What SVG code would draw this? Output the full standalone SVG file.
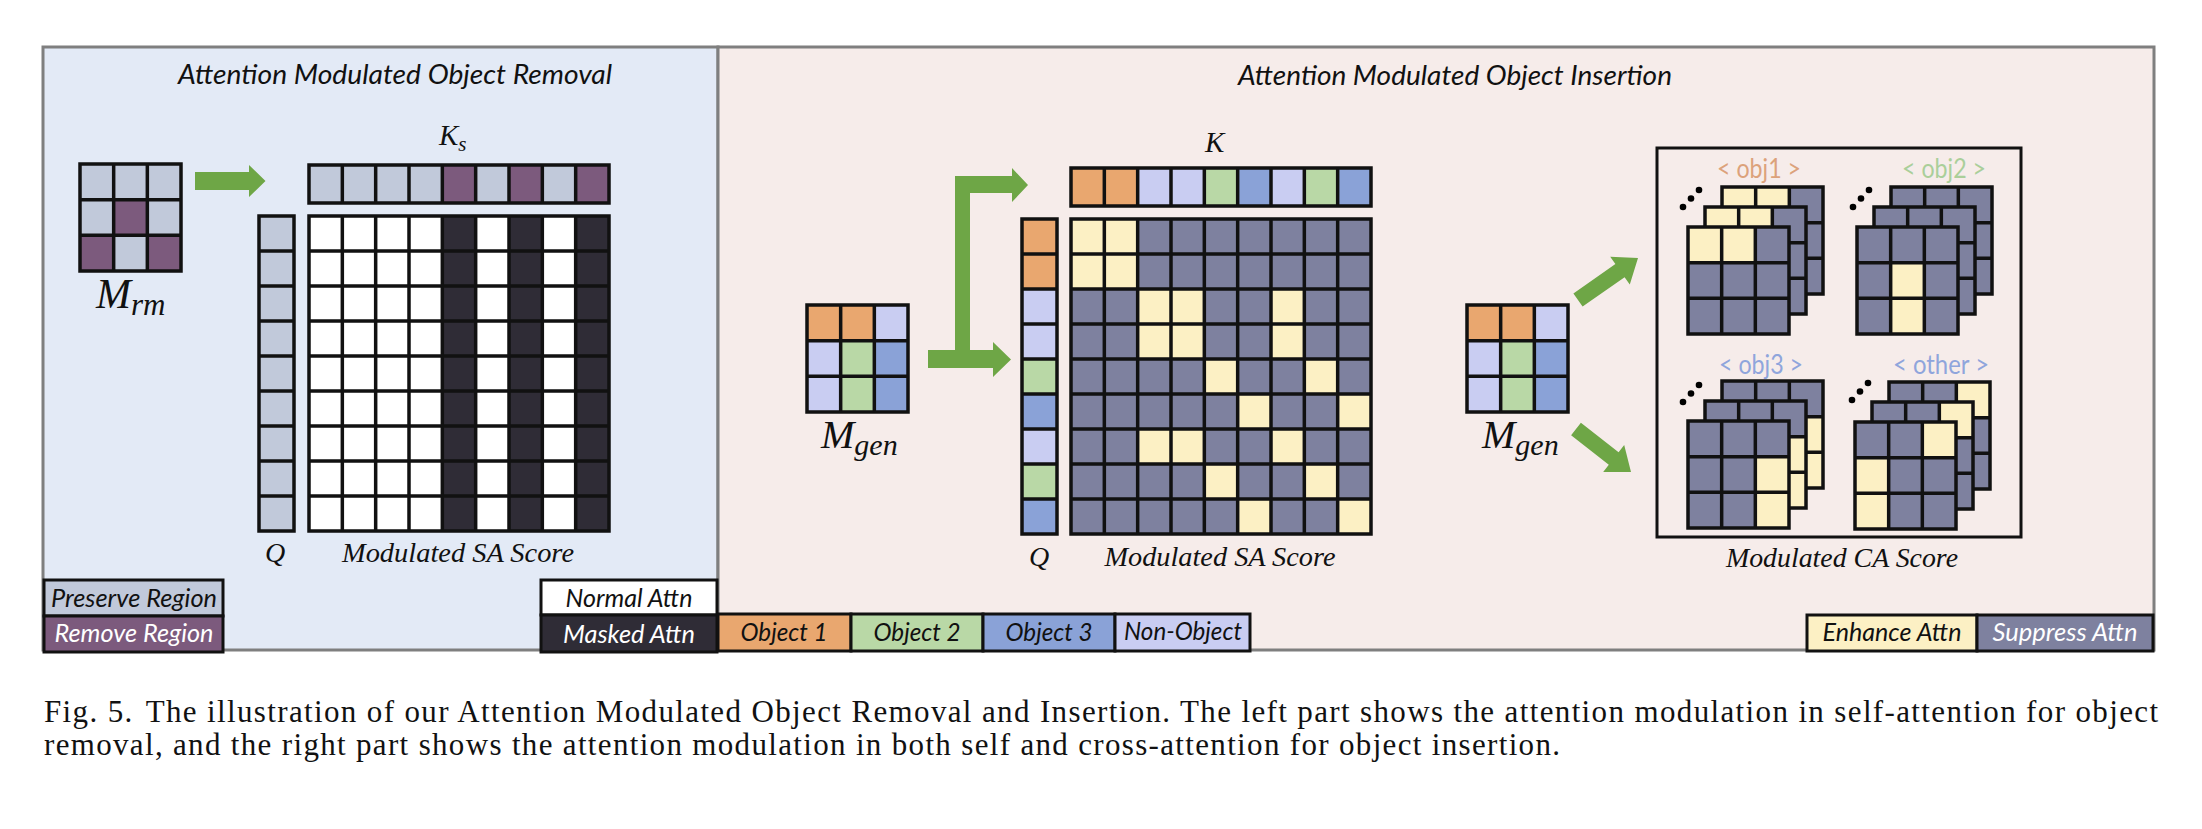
<svg xmlns="http://www.w3.org/2000/svg" width="2202" height="829" viewBox="0 0 2202 829">
<style>
.ln{fill:none;stroke:#111;stroke-width:3.5}
.P{fill:#c1c9da}.R{fill:#7c5a7d}.W{fill:#fff}.D{fill:#2f2c36}
.O{fill:#e9a76f}.G{fill:#b9d8a6}.B{fill:#8aa2d7}.N{fill:#c9cdf2}
.Y{fill:#fcf0c4}.S{fill:#7e819f}
.arrow{fill:#6ea646}
.ti{font-family:Lato,"Liberation Sans",sans-serif;font-style:italic;font-size:27px;fill:#111}
.lg{font-family:Lato,"Liberation Sans",sans-serif;font-style:italic;font-size:25px;fill:#111}
.wh{fill:#fff}
.mt{font-family:"Liberation Serif",serif;font-style:italic;fill:#111}
.tok{font-family:Lato,"Liberation Sans",sans-serif;font-size:27px}
.cap{font-family:"Liberation Serif",serif;font-size:31px;fill:#111}
.lgb{stroke:#111;stroke-width:3}
</style>
<defs>
<path id="g3" class="ln" d="M0,0H101V107H0Z M33.67,0V107 M67.33,0V107 M0,35.67H101 M0,71.33H101"/>
<path id="m9" class="ln" d="M0,0H300V315H0Z M33.33,0V315 M66.67,0V315 M100,0V315 M133.33,0V315 M166.67,0V315 M200,0V315 M233.33,0V315 M266.67,0V315 M0,35H300 M0,70H300 M0,105H300 M0,140H300 M0,175H300 M0,210H300 M0,245H300 M0,280H300"/>
<path id="r9" class="ln" d="M0,0H300V38H0Z M33.33,0V38 M66.67,0V38 M100,0V38 M133.33,0V38 M166.67,0V38 M200,0V38 M233.33,0V38 M266.67,0V38"/>
<path id="c9" class="ln" d="M0,0H35V315H0Z M0,35H35 M0,70H35 M0,105H35 M0,140H35 M0,175H35 M0,210H35 M0,245H35 M0,280H35"/>
<g id="Lobj1"><rect class="S" width="101" height="107"/><rect class="Y" x="0" y="0" width="33.67" height="35.67"/><rect class="Y" x="33.67" y="0" width="33.67" height="35.67"/><use href="#g3"/></g>
<g id="Lobj2"><rect class="S" width="101" height="107"/><rect class="Y" x="33.67" y="35.67" width="33.67" height="71.33"/><use href="#g3"/></g>
<g id="Lobj3"><rect class="S" width="101" height="107"/><rect class="Y" x="67.33" y="35.67" width="33.67" height="71.33"/><use href="#g3"/></g>
<g id="Lother"><rect class="S" width="101" height="107"/><rect class="Y" x="67.33" y="0" width="33.67" height="35.67"/><rect class="Y" x="0" y="35.67" width="33.67" height="71.33"/><use href="#g3"/></g>
<g id="dots"><circle cx="0" cy="0" r="3.3"/><circle cx="8" cy="-8.5" r="3.3"/><circle cx="16" cy="-17" r="3.3"/></g>
</defs>

<rect width="2202" height="829" fill="#fff"/>

<g id="panel-removal">
<rect x="43" y="47" width="675" height="603" fill="#e3eaf6" stroke="#7f7f7f" stroke-width="3"/>
<text class="ti" x="395" y="84" text-anchor="middle" textLength="434" lengthAdjust="spacingAndGlyphs">Attention Modulated Object Removal</text>
</g>
<g id="panel-insertion">
<rect x="718" y="47" width="1436" height="603" fill="#f6ecea" stroke="#7f7f7f" stroke-width="3"/>
<text class="ti" x="1455" y="85" text-anchor="middle" textLength="434" lengthAdjust="spacingAndGlyphs">Attention Modulated Object Insertion</text>
</g>

<g id="node-mrm">
<g transform="translate(80,164)">
<rect class="P" width="101" height="107"/>
<rect class="R" x="33.67" y="35.67" width="33.67" height="35.67"/>
<rect class="R" x="0" y="71.33" width="33.67" height="35.67"/>
<rect class="R" x="67.33" y="71.33" width="33.67" height="35.67"/>
<use href="#g3"/>
</g>
<text class="mt" x="96" y="308" font-size="42">M<tspan font-size="31" dy="7">rm</tspan></text>
</g>

<g id="node-ks">
<g transform="translate(309,165)">
<rect class="P" width="300" height="38"/>
<rect class="R" x="133.33" y="0" width="33.33" height="38"/>
<rect class="R" x="200" y="0" width="33.33" height="38"/>
<rect class="R" x="266.67" y="0" width="33.33" height="38"/>
<use href="#r9"/>
</g>
<text class="mt" x="439" y="145" font-size="29">K<tspan font-size="21" dy="6">s</tspan></text>
</g>

<g id="node-q-left">
<g transform="translate(259,216)">
<rect class="P" width="35" height="315"/>
<use href="#c9"/>
</g>
<text class="mt" x="275" y="562" font-size="28" text-anchor="middle">Q</text>
</g>

<g id="node-sa-left">
<g transform="translate(309,216)">
<rect class="W" width="300" height="315"/>
<rect class="D" x="133.33" y="0" width="33.33" height="315"/>
<rect class="D" x="200" y="0" width="33.33" height="315"/>
<rect class="D" x="266.67" y="0" width="33.33" height="315"/>
<use href="#m9"/>
</g>
<text class="mt" x="458" y="562" font-size="27" text-anchor="middle" textLength="232" lengthAdjust="spacingAndGlyphs">Modulated SA Score</text>
</g>

<g id="legend-region">
<rect class="P lgb" x="44" y="580" width="179" height="36"/>
<rect class="R lgb" x="44" y="616" width="179" height="36"/>
<text class="lg" x="134" y="607" text-anchor="middle" textLength="166" lengthAdjust="spacingAndGlyphs">Preserve Region</text>
<text class="lg wh" x="134" y="642" text-anchor="middle" textLength="159" lengthAdjust="spacingAndGlyphs">Remove Region</text>
</g>
<g id="legend-attn-left">
<rect class="W lgb" x="541" y="580" width="176" height="35"/>
<rect class="D lgb" x="541" y="615" width="176" height="37"/>
<text class="lg" x="629" y="607" text-anchor="middle" textLength="127" lengthAdjust="spacingAndGlyphs">Normal Attn</text>
<text class="lg wh" x="629" y="643" text-anchor="middle" textLength="132" lengthAdjust="spacingAndGlyphs">Masked Attn</text>
</g>

<g id="node-mgen1">
<g transform="translate(807,305)">
<rect class="N" width="101" height="107"/>
<rect class="O" x="0" y="0" width="67.33" height="35.67"/>
<rect class="G" x="33.67" y="35.67" width="33.67" height="71.33"/>
<rect class="B" x="67.33" y="35.67" width="33.67" height="71.33"/>
<use href="#g3"/>
</g>
<text class="mt" x="821" y="448" font-size="40">M<tspan font-size="30" dy="7">gen</tspan></text>
</g>

<g id="node-k">
<g transform="translate(1071,168)">
<rect class="N" width="300" height="38"/>
<rect class="O" x="0" y="0" width="66.67" height="38"/>
<rect class="G" x="133.33" y="0" width="33.33" height="38"/>
<rect class="B" x="166.67" y="0" width="33.33" height="38"/>
<rect class="G" x="233.33" y="0" width="33.33" height="38"/>
<rect class="B" x="266.67" y="0" width="33.33" height="38"/>
<use href="#r9"/>
</g>
<text class="mt" x="1205" y="152" font-size="29">K</text>
</g>

<g id="node-q-right">
<g transform="translate(1022,219)">
<rect class="N" width="35" height="315"/>
<rect class="O" x="0" y="0" width="35" height="70"/>
<rect class="G" x="0" y="140" width="35" height="35"/>
<rect class="B" x="0" y="175" width="35" height="35"/>
<rect class="G" x="0" y="245" width="35" height="35"/>
<rect class="B" x="0" y="280" width="35" height="35"/>
<use href="#c9"/>
</g>
<text class="mt" x="1039" y="566" font-size="28" text-anchor="middle">Q</text>
</g>

<g id="node-sa-right">
<g transform="translate(1071,219)">
<rect class="S" width="300" height="315"/>
<rect class="Y" x="0" y="0" width="66.67" height="70"/>
<rect class="Y" x="66.67" y="70" width="66.67" height="70"/>
<rect class="Y" x="200" y="70" width="33.33" height="70"/>
<rect class="Y" x="133.33" y="140" width="33.33" height="35"/>
<rect class="Y" x="233.33" y="140" width="33.33" height="35"/>
<rect class="Y" x="166.67" y="175" width="33.33" height="35"/>
<rect class="Y" x="266.67" y="175" width="33.33" height="35"/>
<rect class="Y" x="66.67" y="210" width="66.67" height="35"/>
<rect class="Y" x="200" y="210" width="33.33" height="35"/>
<rect class="Y" x="133.33" y="245" width="33.33" height="35"/>
<rect class="Y" x="233.33" y="245" width="33.33" height="35"/>
<rect class="Y" x="166.67" y="280" width="33.33" height="35"/>
<rect class="Y" x="266.67" y="280" width="33.33" height="35"/>
<use href="#m9"/>
</g>
<text class="mt" x="1220" y="566" font-size="27" text-anchor="middle" textLength="231" lengthAdjust="spacingAndGlyphs">Modulated SA Score</text>
</g>

<g id="node-mgen2">
<g transform="translate(1467,305)">
<rect class="N" width="101" height="107"/>
<rect class="O" x="0" y="0" width="67.33" height="35.67"/>
<rect class="G" x="33.67" y="35.67" width="33.67" height="71.33"/>
<rect class="B" x="67.33" y="35.67" width="33.67" height="71.33"/>
<use href="#g3"/>
</g>
<text class="mt" x="1482" y="448" font-size="40">M<tspan font-size="30" dy="7">gen</tspan></text>
</g>

<g id="node-ca">
<rect x="1657" y="148" width="364" height="389" fill="none" stroke="#111" stroke-width="3"/>
<g id="stack-obj1">
<text class="tok" x="1759" y="178" text-anchor="middle" fill="#dca27b" textLength="84" lengthAdjust="spacingAndGlyphs">&lt; obj1 &gt;</text>
<use href="#dots" x="1683" y="207"/>
<use href="#Lobj1" x="1722" y="187"/>
<use href="#Lobj1" x="1705" y="207"/>
<use href="#Lobj1" x="1688" y="227"/>
</g>
<g id="stack-obj2">
<text class="tok" x="1944" y="178" text-anchor="middle" fill="#aacf9a" textLength="84" lengthAdjust="spacingAndGlyphs">&lt; obj2 &gt;</text>
<use href="#dots" x="1853" y="207"/>
<use href="#Lobj2" x="1891" y="187"/>
<use href="#Lobj2" x="1874" y="207"/>
<use href="#Lobj2" x="1857" y="227"/>
</g>
<g id="stack-obj3">
<text class="tok" x="1761" y="374" text-anchor="middle" fill="#8fa5dc" textLength="84" lengthAdjust="spacingAndGlyphs">&lt; obj3 &gt;</text>
<use href="#dots" x="1683" y="402"/>
<use href="#Lobj3" x="1722" y="381"/>
<use href="#Lobj3" x="1705" y="401"/>
<use href="#Lobj3" x="1688" y="421"/>
</g>
<g id="stack-other">
<text class="tok" x="1941" y="374" text-anchor="middle" fill="#8fa5dc" textLength="96" lengthAdjust="spacingAndGlyphs">&lt; other &gt;</text>
<use href="#dots" x="1852" y="400"/>
<use href="#Lother" x="1889" y="382"/>
<use href="#Lother" x="1872" y="402"/>
<use href="#Lother" x="1855" y="422"/>
</g>
<text class="mt" x="1842" y="567" font-size="27" text-anchor="middle" textLength="232" lengthAdjust="spacingAndGlyphs">Modulated CA Score</text>
</g>

<g id="legend-objects">
<rect class="O lgb" x="718" y="614" width="133" height="37"/>
<rect class="G lgb" x="851" y="614" width="132" height="37"/>
<rect class="B lgb" x="983" y="614" width="132" height="37"/>
<rect class="N lgb" x="1115" y="614" width="135" height="37"/>
<text class="lg" x="784" y="641" text-anchor="middle" textLength="87" lengthAdjust="spacingAndGlyphs">Object 1</text>
<text class="lg" x="917" y="641" text-anchor="middle" textLength="87" lengthAdjust="spacingAndGlyphs">Object 2</text>
<text class="lg" x="1049" y="641" text-anchor="middle" textLength="87" lengthAdjust="spacingAndGlyphs">Object 3</text>
<text class="lg" x="1183" y="640" text-anchor="middle" textLength="118" lengthAdjust="spacingAndGlyphs">Non-Object</text>
</g>
<g id="legend-attn-right">
<rect class="Y lgb" x="1807" y="615" width="170" height="36"/>
<rect class="S lgb" x="1977" y="615" width="176" height="36"/>
<text class="lg" x="1892" y="641" text-anchor="middle" textLength="139" lengthAdjust="spacingAndGlyphs">Enhance Attn</text>
<text class="lg wh" x="2065" y="641" text-anchor="middle" textLength="145" lengthAdjust="spacingAndGlyphs">Suppress Attn</text>
</g>

<g id="connectors">
<polygon class="arrow" points="195,172 249,172 249,165 265.5,181 249,197 249,190 195,190"/>
<polygon class="arrow" points="955,176 1012,176 1012,168 1028,185 1012,202 1012,193 970,193 970,350 993,350 993,342 1011,359.5 993,377 993,368 928,368 928,350 955,350"/>
<polygon class="arrow" points="1582.6,306.6 1624.6,277.2 1629.8,284.5 1638,258 1610.2,256.7 1615.4,264 1573.4,293.4"/>
<polygon class="arrow" points="1571.1,435.3 1608.8,464.8 1603.2,471.9 1631,472 1624.2,445.1 1618.6,452.2 1580.9,422.7"/>
</g>

<g id="caption">
<text class="cap" x="44" y="722" textLength="2114" lengthAdjust="spacing">Fig. 5.<tspan dx="12">The illustration of our Attention Modulated Object Removal and Insertion. The left part shows the attention modulation in self-attention for object</tspan></text>
<text class="cap" x="44" y="755" textLength="1516" lengthAdjust="spacing">removal, and the right part shows the attention modulation in both self and cross-attention for object insertion.</text>
</g>
</svg>
